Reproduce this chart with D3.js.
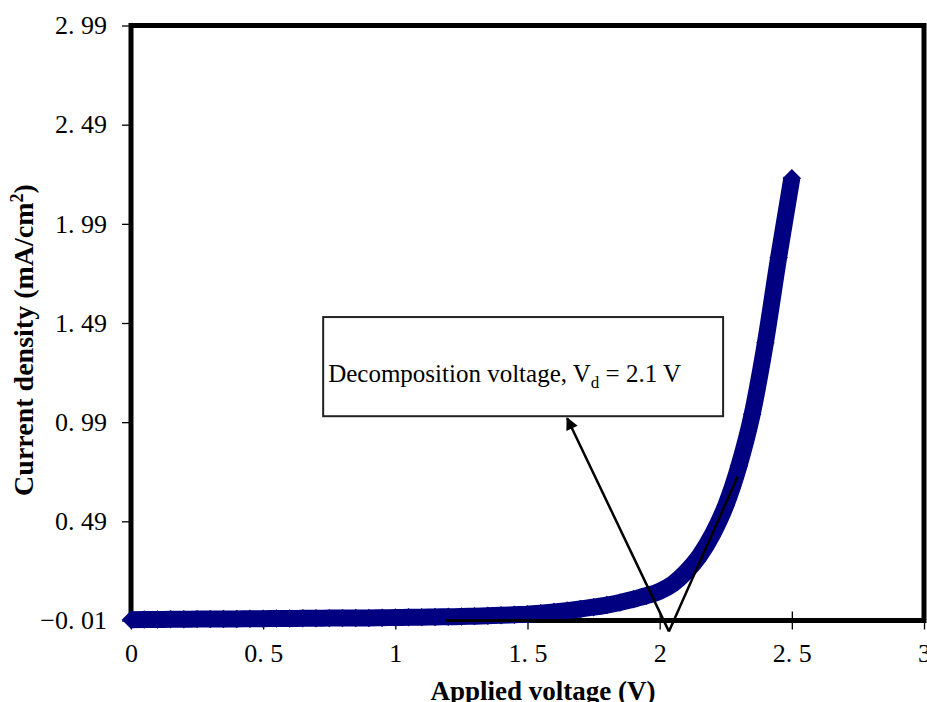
<!DOCTYPE html>
<html>
<head>
<meta charset="utf-8">
<script src="https://cdn.jsdelivr.net/npm/d3@7"></script>
<style>
  html, body { margin: 0; padding: 0; background: #fff; }
  svg { display: block; }
</style>
</head>
<body>
<svg id="chart" width="927" height="702"></svg>
<script>
// Applied voltage (V) and measured current density (mA/cm²)
const voltage = [
  0.00, 0.05, 0.10, 0.15, 0.20, 0.25, 0.30, 0.35, 0.40, 0.45,
  0.50, 0.55, 0.60, 0.65, 0.70, 0.75, 0.80, 0.85, 0.90, 0.95,
  1.00, 1.05, 1.10, 1.15, 1.20, 1.25, 1.30, 1.35, 1.40, 1.45,
  1.50, 1.55, 1.60, 1.65, 1.70, 1.75, 1.80, 1.85, 1.90, 1.95,
  2.00, 2.05, 2.10, 2.15, 2.20, 2.25, 2.30, 2.35, 2.40, 2.45, 2.50
];
const currentDensity = [
  -0.006, -0.005, -0.005, -0.004, -0.004, -0.003, -0.003, -0.002, -0.002, -0.001,
  -0.001, 0.000, 0.000, 0.001, 0.001, 0.002, 0.002, 0.003, 0.003, 0.004,
  0.005, 0.006, 0.007, 0.008, 0.009, 0.010, 0.012, 0.014, 0.016, 0.019,
  0.022, 0.027, 0.033, 0.040, 0.048, 0.057, 0.068, 0.081, 0.097, 0.115,
  0.138, 0.175, 0.235, 0.315, 0.425, 0.570, 0.770, 1.030, 1.390, 1.820, 2.220
];

// Axis ticks
const xTicks = [0, 0.5, 1, 1.5, 2, 2.5, 3];
const yTicks = [-0.01, 0.49, 0.99, 1.49, 1.99, 2.49, 2.99];

// Annotation geometry in data units: baseline tangent, rising tangent, arrow, label box
const baselineTangent = [[1.19, -0.01], [2.05, -0.01]];
const risingTangent = [[2.035, -0.065], [2.295, 0.715]];
const arrowLine = [[2.035, -0.065], [1.65, 1.01]];
const labelBox = { x0: 0.727, x1: 2.24, y0: 1.52, y1: 1.02 };

const svg = d3.select("#chart");
const plot = { left: 131, right: 924, top: 25.5, bottom: 620.5 };

const x = d3.scaleLinear().domain([0, 3]).range([plot.left, plot.right]);
const y = d3.scaleLinear().domain([-0.01, 2.99]).range([plot.bottom, plot.top]);

const fmt = v => {
  const s = d3.format(Number.isInteger(v) ? "d" : (Math.abs(v * 10 % 1) < 1e-9 ? ".1f" : ".2f"))(Math.abs(v));
  return (v < 0 ? "\u2212" : "") + s.replace(".", ". ");
};

// Y axis ticks and labels
const yAxis = svg.append("g")
  .attr("transform", `translate(${plot.left},0)`)
  .call(d3.axisLeft(y).tickValues(yTicks).tickSize(9).tickFormat(fmt).tickPadding(15));
yAxis.select(".domain").remove();
yAxis.selectAll("line").attr("stroke", "#000").attr("stroke-width", 1.3);
yAxis.selectAll("text")
  .attr("font-family", "'Liberation Serif', serif")
  .attr("font-size", 26).attr("fill", "#000");

// X axis ticks (crossing the baseline) and labels
const xAxis = svg.append("g")
  .attr("transform", `translate(0,${plot.bottom})`)
  .call(d3.axisBottom(x).tickValues(xTicks).tickSize(9).tickFormat(fmt).tickPadding(14));
xAxis.select(".domain").remove();
xAxis.selectAll("line").attr("y1", -9).attr("stroke", "#000").attr("stroke-width", 1.3);
xAxis.selectAll("text")
  .attr("font-family", "'Liberation Serif', serif")
  .attr("font-size", 26).attr("fill", "#000");

// Plot area frame
svg.append("rect")
  .attr("x", plot.left).attr("y", plot.top)
  .attr("width", plot.right - plot.left).attr("height", plot.bottom - plot.top)
  .attr("fill", "none").attr("stroke", "#000").attr("stroke-width", 5);

// Series: thick navy line with diamond markers
const pts = voltage.map((v, i) => [v, currentDensity[i]]);
svg.append("path")
  .datum(pts)
  .attr("d", d3.line().x(d => x(d[0])).y(d => y(d[1])).curve(d3.curveMonotoneX))
  .attr("fill", "none").attr("stroke", "#000080")
  .attr("stroke-width", 17).attr("stroke-linejoin", "round");

svg.append("g").selectAll("path")
  .data(pts)
  .join("path")
  .attr("transform", d => `translate(${x(d[0])},${y(d[1])}) rotate(45)`)
  .attr("d", d3.symbol().type(d3.symbolSquare).size(170))
  .attr("fill", "#000080");

// Tangent construction lines
const seg = d => d3.line().x(p => x(p[0])).y(p => y(p[1]))(d);
svg.append("path").attr("d", seg(baselineTangent))
  .attr("stroke", "#000").attr("stroke-width", 3).attr("fill", "none");
svg.append("path").attr("d", seg(risingTangent))
  .attr("stroke", "#000").attr("stroke-width", 2.5).attr("fill", "none");

// Arrow pointing at the label
svg.append("defs").append("marker")
  .attr("id", "arrowhead")
  .attr("viewBox", "0 0 10 10").attr("refX", 9).attr("refY", 5)
  .attr("markerWidth", 6).attr("markerHeight", 5)
  .attr("markerUnits", "strokeWidth")
  .attr("orient", "auto")
  .append("path").attr("d", "M0,0 L10,5 L0,10 Z").attr("fill", "#000");
svg.append("path").attr("d", seg(arrowLine))
  .attr("stroke", "#000").attr("stroke-width", 2.5).attr("fill", "none")
  .attr("marker-end", "url(#arrowhead)");

// Label box
svg.append("rect")
  .attr("x", x(labelBox.x0)).attr("y", y(labelBox.y0))
  .attr("width", x(labelBox.x1) - x(labelBox.x0))
  .attr("height", y(labelBox.y1) - y(labelBox.y0))
  .attr("fill", "#fff").attr("stroke", "#222").attr("stroke-width", 2);

const label = svg.append("text")
  .attr("x", x(labelBox.x0) + 5).attr("y", 382)
  .attr("font-family", "'Liberation Serif', serif")
  .attr("font-size", 25).attr("fill", "#000");
label.append("tspan").text("Decomposition voltage, V");
label.append("tspan").attr("font-size", 17).attr("dy", 6).text("d");
label.append("tspan").attr("dy", -6).text(" = 2.1 V");

// Axis titles
svg.append("text")
  .attr("x", 543).attr("y", 700)
  .attr("text-anchor", "middle")
  .attr("font-family", "'Liberation Serif', serif")
  .attr("font-weight", "bold").attr("font-size", 27)
  .text("Applied voltage (V)");

const yt = svg.append("text")
  .attr("transform", "translate(33,340) rotate(-90)")
  .attr("text-anchor", "middle")
  .attr("font-family", "'Liberation Serif', serif")
  .attr("font-weight", "bold").attr("font-size", 28);
yt.append("tspan").text("Current density (mA/cm");
yt.append("tspan").attr("font-size", 18).attr("dy", -10).text("2");
yt.append("tspan").attr("dy", 10).text(")");
</script>
</body>
</html>
